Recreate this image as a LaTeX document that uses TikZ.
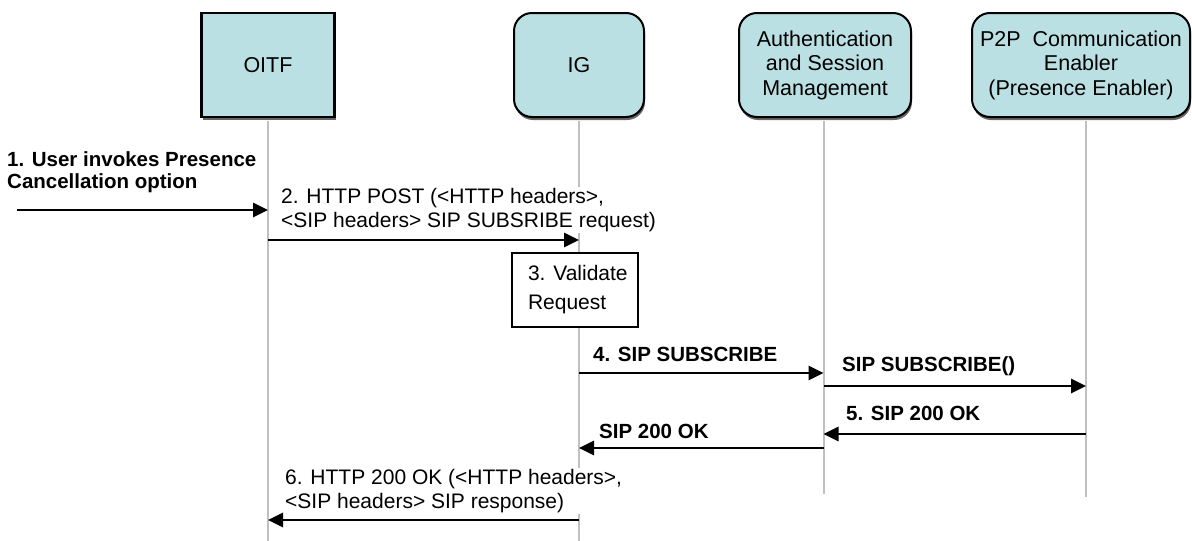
\documentclass[tikz,border=0pt]{standalone}
\usepackage{fontspec}
\setmainfont{Liberation Sans}
\usetikzlibrary{arrows.meta,shadows}
\definecolor{boxfill}{RGB}{187,224,227}
\definecolor{lifegray}{RGB}{192,192,192}
\begin{document}
\begin{tikzpicture}[x=1pt,y=-1pt,
  actor/.style={draw=black,line width=2pt,fill=boxfill,align=center,
     font=\fontsize{21.5}{24.5}\selectfont,inner sep=0pt,minimum height=104pt,
     drop shadow={shadow xshift=1pt,shadow yshift=-3pt,fill=black!60,opacity=1}},
  roundactor/.style={actor,rounded corners=18pt},
  life/.style={draw=lifegray,line width=2pt},
  msg/.style={draw=black,line width=2.8pt,-{Triangle[length=15pt,width=14pt]}},
  lbl/.style={font=\fontsize{21}{23.5}\selectfont,align=left,inner sep=1pt,anchor=west},
  blbl/.style={font=\bfseries\fontsize{20.5}{22}\selectfont,align=left,inner sep=1pt,anchor=west},
  procbox/.style={draw=black,line width=1.5pt,fill=white,minimum width=126pt,minimum height=74pt,
     inner xsep=0pt,inner ysep=0pt,align=left,font=\fontsize{21}{29}\selectfont}
]
\useasboundingbox (0,0) rectangle (1192,541);

% actors
\node[actor,line width=2.5pt,minimum width=133pt] (oitf) at (268,65) {OITF};
\node[roundactor,minimum width=130pt] (ig) at (579,65) {IG};
\node[roundactor,minimum width=172pt] (asm) at (825,65) {Authentication\\and Session\\Management};
\node[roundactor,minimum width=218pt] (p2p) at (1081,65) {P2P\ \ Communication\\Enabler\\(Presence Enabler)};

% lifelines
\coordinate (lo) at ([yshift=-3pt]oitf.south);
\coordinate (li) at ([yshift=-3pt]ig.south);
\coordinate (la) at ([xshift=-1.5pt,yshift=-3pt]asm.south);
\coordinate (lp) at ([xshift=5pt,yshift=-3pt]p2p.south);
\coordinate (loe) at (lo |- 0,541);
\coordinate (lie) at (li |- 0,541);
\coordinate (lae) at (la |- 0,494);
\coordinate (lpe) at (lp |- 0,497);
\draw[life] (lo) -- (loe);
\draw[life] (li) -- (lie);
\draw[life] (la) -- (lae);
\draw[life] (lp) -- (lpe);

% 1
\coordinate (user) at (17,210);
\node[blbl] (t1) at (6,172) {1. User invokes Presence\\Cancellation option};
\draw[msg] (user) -- (lo |- user);

% 2
\node[lbl,fill=white] (t2) at (280,210) {2. HTTP POST (<HTTP headers>,\\<SIP headers> SIP SUBSRIBE request)};
\draw[msg] (lo |- 0,240) -- (li |- 0,240);

% 3
\node[procbox] (val) at (575,290) {};
\node[procbox,draw=none,fill=none,minimum width=0pt,minimum height=0pt,anchor=west] (valtext) at ([xshift=16pt]val.west) {3. Validate\\Request};

% 4
\node[blbl] (t4) at (592,354) {4. SIP SUBSCRIBE};
\draw[msg] (li |- 0,373) -- (la |- 0,373);
\node[blbl] (t4b) at (841,366) {SIP SUBSCRIBE()};
\draw[msg] (la |- 0,386) -- (lp |- 0,386);

% 5
\node[blbl] (t5) at (845,413) {5. SIP 200 OK};
\draw[msg] (lp |- 0,434) -- (la |- 0,434);
\node[blbl] (t5b) at (598,431) {SIP 200 OK};
\draw[msg] (la |- 0,448) -- (li |- 0,448);

% 6
\node[lbl,fill=white] (t6) at (284,491) {6. HTTP 200 OK (<HTTP headers>,\\<SIP headers> SIP response)};
\draw[msg] (li |- 0,520) -- (lo |- 0,520);
\end{tikzpicture}
\end{document}
